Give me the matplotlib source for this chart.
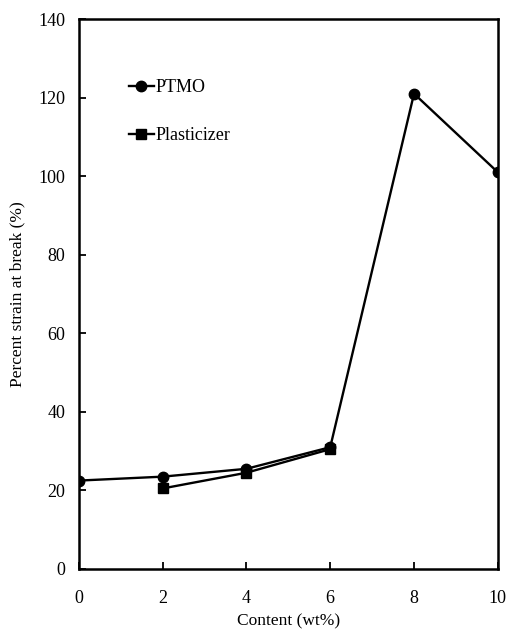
import matplotlib.pyplot as plt

# data
content_ptmo = [0, 2, 4, 6, 8, 10]
strain_ptmo = [22.5, 23.5, 25.5, 31, 121, 101]
content_plast = [2, 4, 6]
strain_plast = [20.5, 24.5, 30.5]

plt.rcParams['font.family'] = ['Liberation Serif', 'DejaVu Serif']

fig = plt.figure(figsize=(5.09, 6.35), dpi=100)
ax = fig.add_axes([0.155, 0.104, 0.823, 0.866])

ax.plot(content_ptmo, strain_ptmo, '-o', color='black', lw=1.7, ms=7.5, label='PTMO')
ax.plot(content_plast, strain_plast, '-s', color='black', lw=1.7, ms=7.5, label='Plasticizer')

ax.set_xlim(0, 10)
ax.set_ylim(0, 140)
ax.set_xticks(range(0, 11, 2))
ax.set_yticks(range(0, 141, 20))
ax.tick_params(direction='in', length=5, width=1.3, labelsize=13)
ax.tick_params(axis='x', pad=15)
ax.tick_params(axis='y', pad=10)
for s in ax.spines.values():
    s.set_linewidth(1.8)

ax.set_xlabel('Content (wt%)', fontsize=12.5, labelpad=5)
ax.set_ylabel('Percent strain at break (%)', fontsize=12.5, labelpad=9)

leg = ax.legend(loc='upper left', bbox_to_anchor=(0.08, 0.92), frameon=False,
                fontsize=13, labelspacing=1.7, handlelength=1.4, handletextpad=0.1,
                markerscale=1.0)

fig.savefig('out.png', dpi=100)
